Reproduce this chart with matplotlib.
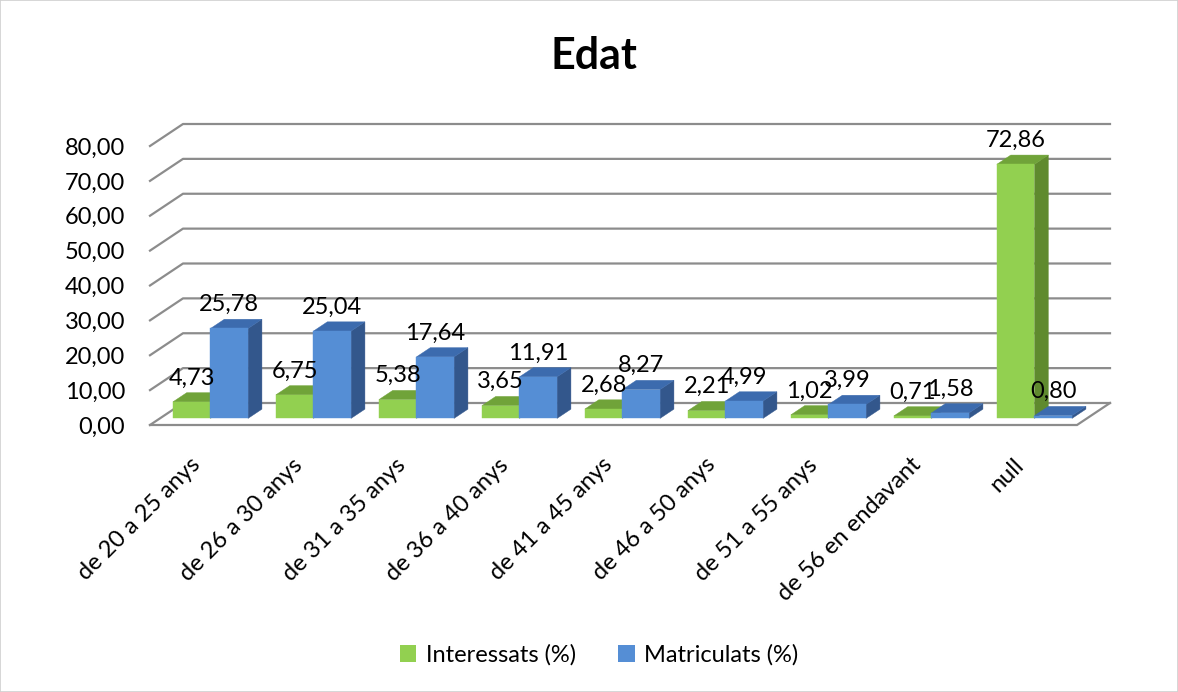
import matplotlib
matplotlib.use("Agg")
import matplotlib.pyplot as plt
from matplotlib.patches import Polygon, Patch, Rectangle

plt.rcParams['font.family'] = ['Lato', 'DejaVu Sans']

categories = ["de 20 a 25 anys", "de 26 a 30 anys", "de 31 a 35 anys", "de 36 a 40 anys",
              "de 41 a 45 anys", "de 46 a 50 anys", "de 51 a 55 anys", "de 56 en endavant", "null"]
interessats = [4.73, 6.75, 5.38, 3.65, 2.68, 2.21, 1.02, 0.71, 72.86]
matriculats = [25.78, 25.04, 17.64, 11.91, 8.27, 4.99, 3.99, 1.58, 0.80]
series_names = ["Interessats (%)", "Matriculats (%)"]
yticks = [0, 10, 20, 30, 40, 50, 60, 70, 80]
title = "Edat"

# styles
front_cols = ["#92D050", "#558ED5"]
top_cols = ["#70A339", "#3C6BAE"]
side_cols = ["#5F8A2E", "#33578C"]
grid_col = "#8C8C8C"
FS = 17

W, H = 1178, 692
fig = plt.figure(figsize=(W / 100, H / 100), dpi=100)
fig.patches.append(Rectangle((0, 0), 1, 1, transform=fig.transFigure, fill=False,
                             edgecolor="#D0D0D0", lw=1.2))

ax_l, ax_r, ax_b, ax_t = 150, 1110, 425, 110
ax = fig.add_axes([ax_l / W, 1 - ax_b / H, (ax_r - ax_l) / W, (ax_b - ax_t) / H])
px_per_cat = 103.0
px_per_unit = 279 / 80
ax.set_xlim(0, (ax_r - ax_l) / px_per_cat)
ax.set_ylim(0, (ax_b - ax_t) / px_per_unit)
for s in ax.spines.values():
    s.set_visible(False)

n = len(categories)
Dx, Dy = 33 / px_per_cat, 22 / px_per_unit   # wall depth
fx, fy = 0.30 * Dx, 0.30 * Dy                  # bar front offset
bx, by = 0.42 * Dx, 0.42 * Dy                  # bar depth
bw = 0.365
gap = 0.126

# floor
floor = Polygon([(0, 0), (n, 0), (n + Dx, Dy), (Dx, Dy)], closed=True,
                facecolor="white", edgecolor="none", zorder=1)
ax.add_patch(floor)
ax.plot([0, n, n + Dx], [0, 0, Dy], color=grid_col, lw=1.6, zorder=2, clip_on=False,
        solid_joinstyle="miter")
# gridlines
for v in yticks:
    ax.plot([0, Dx, n + Dx], [v, v + Dy, v + Dy], color=grid_col, lw=1.6, zorder=1.5,
            clip_on=False)

# bars
for i in range(n):
    for k, vals in enumerate([interessats, matriculats]):
        v = vals[i]
        x0 = i + gap + k * bw + fx
        y0 = fy
        x1 = x0 + bw
        y1 = y0 + v
        z = 3 + i * 0.1 + k * 0.01
        side = Polygon([(x1, y0), (x1 + bx, y0 + by), (x1 + bx, y1 + by), (x1, y1)],
                       closed=True, facecolor=side_cols[k], edgecolor=side_cols[k], lw=0.3, zorder=z)
        top = Polygon([(x0, y1), (x1, y1), (x1 + bx, y1 + by), (x0 + bx, y1 + by)],
                      closed=True, facecolor=top_cols[k], edgecolor=top_cols[k], lw=0.3, zorder=z)
        front = Rectangle((x0, y0), bw, v, facecolor=front_cols[k], edgecolor=front_cols[k],
                          lw=0.3, zorder=z + 0.001)
        ax.add_patch(side)
        ax.add_patch(top)
        ax.add_patch(front)
        lbl = f"{v:.2f}".replace(".", ",")
        ax.annotate(lbl, (x0 + bw / 2, y1 + by), xytext=(0, 3), textcoords="offset points",
                    ha="center", va="bottom", fontsize=FS, color="black", zorder=10,
                    annotation_clip=False)

ax.set_yticks(yticks)
ax.set_yticklabels([f"{v:.2f}".replace(".", ",") for v in yticks], fontsize=FS)
ax.tick_params(axis="y", length=0, pad=18)
ax.set_xticks([i + 0.38 for i in range(n)])
ax.set_xticklabels(categories, rotation=45, ha="right", va="top", rotation_mode="anchor",
                   fontsize=FS)
ax.tick_params(axis="x", length=0, pad=21)

fig.text(594 / W, 1 - 56 / H, title, ha="center", va="center", fontsize=31, fontweight="bold")

handles = [Patch(facecolor=front_cols[0], edgecolor="none"),
           Patch(facecolor=front_cols[1], edgecolor="none")]
fig.legend(handles, series_names, loc="center", bbox_to_anchor=(599 / W, 1 - 655 / H),
           ncol=2, frameon=False, fontsize=FS, handlelength=0.7, handleheight=0.7,
           handletextpad=0.4, columnspacing=1.8)

fig.savefig("out.png", dpi=100)
